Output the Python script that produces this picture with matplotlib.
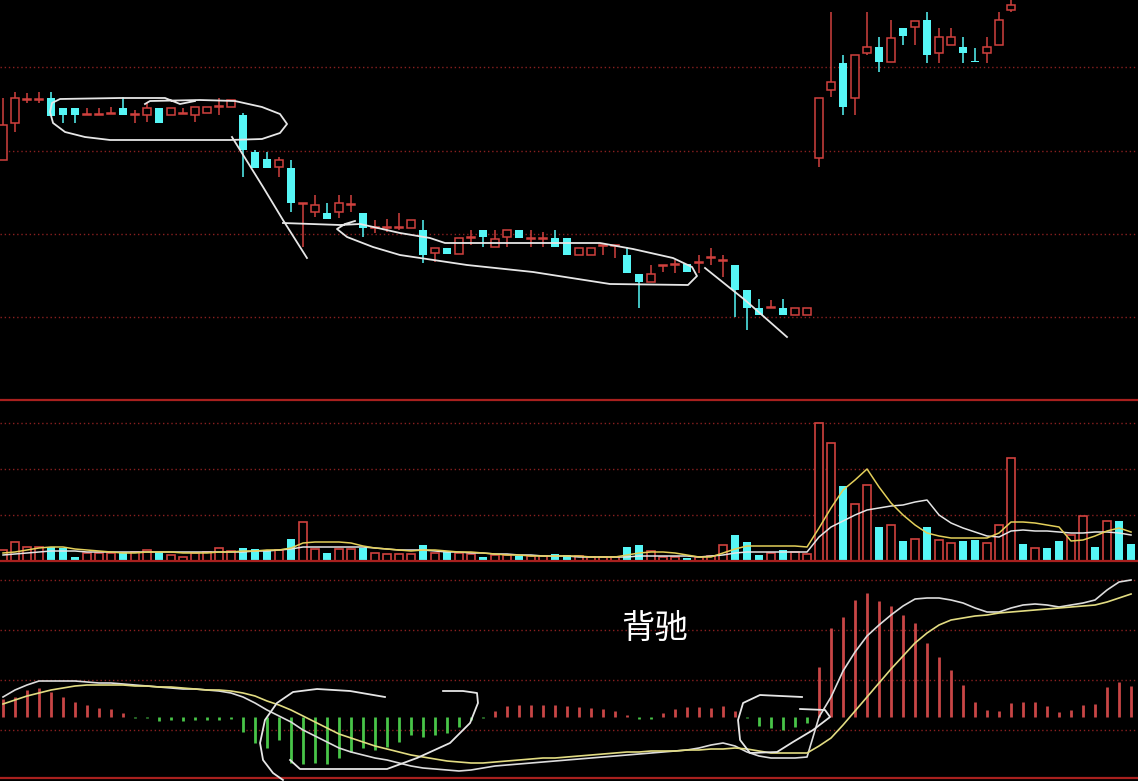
import numpy as np
import matplotlib
matplotlib.use("Agg")
import matplotlib.pyplot as plt
from matplotlib.lines import Line2D

plt.rcParams['font.family'] = ['Noto Sans CJK SC', 'DejaVu Sans']

# ---- price data (one entry per trading day) ----
opens = [8.40, 8.77, 9.00, 9.00, 9.02, 8.92, 8.92, 8.85, 8.85, 8.86,
         8.92, 8.85, 8.85, 8.92, 8.85, 8.86, 8.85, 8.87, 8.93, 8.93,
         8.85, 8.48, 8.41, 8.33, 8.32, 7.96, 7.88, 7.87, 7.88, 7.95,
         7.87, 7.72, 7.72, 7.72, 7.72, 7.70, 7.47, 7.52, 7.46, 7.62,
         7.70, 7.53, 7.63, 7.70, 7.61, 7.61, 7.62, 7.62, 7.45, 7.45,
         7.54, 7.54, 7.45, 7.26, 7.18, 7.34, 7.35, 7.36, 7.37, 7.42,
         7.39, 7.35, 7.10, 6.92, 6.92, 6.92, 6.85, 6.85, 8.42, 9.10,
         9.37, 9.02, 9.47, 9.53, 9.38, 9.72, 9.73, 9.80, 9.47, 9.55,
         9.53, 9.39, 9.47, 9.55, 9.90, 10.30, 10.15, 10.28, 10.20, 10.12,
         10.22, 10.40, 10.32, 10.55, 10.45]
closes = [8.75, 9.02, 9.01, 9.01, 8.84, 8.85, 8.85, 8.86, 8.86, 8.87,
          8.85, 8.86, 8.92, 8.77, 8.92, 8.87, 8.93, 8.93, 8.94, 9.00,
          8.50, 8.32, 8.32, 8.40, 7.97, 7.97, 7.95, 7.81, 7.97, 7.96,
          7.72, 7.73, 7.73, 7.73, 7.80, 7.45, 7.52, 7.46, 7.62, 7.63,
          7.63, 7.61, 7.70, 7.62, 7.62, 7.62, 7.53, 7.45, 7.52, 7.52,
          7.55, 7.55, 7.27, 7.18, 7.26, 7.35, 7.36, 7.28, 7.38, 7.43,
          7.40, 7.10, 6.92, 6.85, 6.93, 6.85, 6.92, 6.92, 9.02, 9.18,
          8.93, 9.45, 9.53, 9.38, 9.62, 9.64, 9.79, 9.45, 9.63, 9.63,
          9.47, 9.38, 9.53, 9.80, 9.95, 10.15, 10.25, 10.18, 10.12, 10.22,
          10.40, 10.32, 10.50, 10.42, 10.38]
highs = [9.02, 9.08, 9.07, 9.08, 9.08, 8.92, 8.92, 8.92, 8.92, 8.93,
         9.03, 8.90, 8.97, 8.92, 8.92, 8.92, 8.93, 8.93, 9.02, 9.00,
         8.87, 8.50, 8.48, 8.43, 8.40, 7.97, 8.05, 7.97, 8.05, 8.05,
         7.87, 7.80, 7.81, 7.87, 7.80, 7.80, 7.52, 7.52, 7.62, 7.70,
         7.70, 7.70, 7.70, 7.70, 7.70, 7.68, 7.70, 7.62, 7.52, 7.52,
         7.55, 7.55, 7.53, 7.26, 7.35, 7.35, 7.40, 7.36, 7.45, 7.52,
         7.45, 7.35, 7.10, 7.01, 7.00, 7.01, 6.92, 6.92, 9.02, 9.88,
         9.45, 9.45, 9.88, 9.63, 9.80, 9.72, 9.79, 9.88, 9.72, 9.72,
         9.63, 9.52, 9.63, 9.88, 10.05, 10.35, 10.30, 10.30, 10.25, 10.25,
         10.45, 10.45, 10.55, 10.60, 10.50]
lows = [8.40, 8.68, 8.97, 8.97, 8.84, 8.77, 8.77, 8.85, 8.85, 8.86,
        8.85, 8.77, 8.78, 8.77, 8.85, 8.86, 8.78, 8.87, 8.85, 8.93,
        8.23, 8.32, 8.32, 8.23, 7.88, 7.53, 7.83, 7.81, 7.82, 7.88,
        7.63, 7.67, 7.68, 7.70, 7.72, 7.37, 7.38, 7.46, 7.46, 7.55,
        7.53, 7.53, 7.53, 7.62, 7.53, 7.53, 7.53, 7.45, 7.45, 7.45,
        7.45, 7.42, 7.27, 6.92, 7.18, 7.28, 7.27, 7.28, 7.27, 7.35,
        7.23, 6.83, 6.70, 6.85, 6.92, 6.85, 6.85, 6.85, 8.33, 9.03,
        8.85, 8.85, 9.45, 9.28, 9.38, 9.55, 9.55, 9.37, 9.37, 9.55,
        9.37, 9.38, 9.37, 9.55, 9.88, 10.10, 10.12, 10.12, 10.08, 10.08,
        10.20, 10.28, 10.30, 10.38, 10.32]

# ---- volume and its two moving-average lines ----
volume = [1100, 1900, 1400, 1400, 1400, 1300, 400, 800, 800, 800,
          900, 900, 1100, 900, 600, 400, 800, 900, 1300, 1000,
          1300, 1200, 1100, 1100, 2200, 3900, 1200, 800, 1200, 1200,
          1300, 800, 700, 700, 700, 1600, 800, 1000, 800, 700,
          400, 600, 600, 500, 500, 500, 700, 600, 500, 400,
          400, 400, 1400, 1600, 1000, 400, 400, 300, 400, 500,
          1600, 2600, 1900, 600, 800, 1100, 900, 700, 13800, 11800,
          7500, 5700, 7600, 3400, 3600, 2000, 2200, 3400, 2100, 1800,
          2000, 2100, 1800, 3600, 10300, 1700, 1300, 1300, 2000, 2600,
          4500, 1400, 4000, 4000, 1700]
vol_ma_yellow = [800, 900, 1100, 1300, 1400, 1400, 1200, 1100, 1000, 900,
                 800, 800, 900, 900, 900, 800, 800, 800, 900, 900,
                 1000, 1000, 1100, 1100, 1300, 1800, 1900, 1900, 1900, 1800,
                 1500, 1300, 1200, 1100, 1000, 1100, 1100, 1000, 900, 900,
                 800, 700, 600, 600, 500, 500, 500, 500, 500, 400,
                 400, 400, 600, 800, 900, 900, 800, 600, 400, 400,
                 800, 1200, 1500, 1500, 1500, 1500, 1500, 1400, 3300, 5300,
                 7100, 8100, 9200, 7400, 5800, 4600, 3600, 2800, 2500, 2300,
                 2300, 2300, 2300, 2800, 3900, 3900, 3800, 3600, 3400, 2000,
                 2100, 2500, 3000, 3300, 2900]
vol_ma_white = [600, 700, 800, 900, 1000, 1000, 1000, 900, 900, 900,
                900, 900, 900, 900, 900, 900, 900, 900, 900, 900,
                900, 1000, 1000, 1100, 1200, 1400, 1400, 1400, 1400, 1400,
                1400, 1300, 1200, 1100, 1100, 1100, 1000, 900, 900, 800,
                800, 700, 700, 600, 600, 500, 500, 500, 400, 400,
                400, 400, 400, 500, 500, 500, 500, 500, 400, 500,
                600, 800, 900, 900, 900, 900, 900, 900, 2400, 3400,
                4000, 4600, 5100, 5300, 5500, 5600, 5900, 6100, 4600, 3800,
                3300, 2900, 2500, 2400, 3000, 3100, 3000, 3000, 2900, 2800,
                2800, 2900, 2900, 2800, 2600]

# ---- MACD ----
macd_hist = [0.18, 0.20, 0.27, 0.29, 0.25, 0.20, 0.15, 0.12, 0.09, 0.08,
             0.04, -0.01, -0.01, -0.04, -0.03, -0.04, -0.03, -0.03, -0.03, -0.02,
             -0.15, -0.26, -0.31, -0.23, -0.46, -0.47, -0.46, -0.47, -0.41, -0.35,
             -0.31, -0.33, -0.30, -0.25, -0.18, -0.20, -0.18, -0.16, -0.10, -0.03,
             -0.01, 0.06, 0.11, 0.12, 0.12, 0.12, 0.12, 0.11, 0.10, 0.09,
             0.08, 0.06, 0.02, -0.02, -0.02, 0.04, 0.08, 0.10, 0.10, 0.09,
             0.11, 0.06, -0.01, -0.09, -0.11, -0.13, -0.10, -0.06, 0.50, 0.89,
             1.00, 1.17, 1.24, 1.16, 1.11, 1.02, 0.94, 0.74, 0.60, 0.47,
             0.32, 0.15, 0.07, 0.06, 0.14, 0.15, 0.15, 0.11, 0.05, 0.07,
             0.12, 0.13, 0.30, 0.35, 0.31]
macd_dif = [0.20, 0.27, 0.32, 0.36, 0.36, 0.36, 0.36, 0.35, 0.34, 0.34,
            0.33, 0.32, 0.31, 0.30, 0.29, 0.28, 0.28, 0.27, 0.26, 0.24,
            0.20, 0.14, 0.07, 0.01, -0.05, -0.13, -0.19, -0.25, -0.31, -0.35,
            -0.38, -0.41, -0.43, -0.46, -0.49, -0.51, -0.52, -0.53, -0.54, -0.53,
            -0.51, -0.49, -0.48, -0.47, -0.46, -0.45, -0.44, -0.43, -0.42, -0.41,
            -0.40, -0.39, -0.38, -0.37, -0.36, -0.35, -0.34, -0.33, -0.31, -0.28,
            -0.26, -0.29, -0.35, -0.39, -0.41, -0.41, -0.41, -0.40, 0.00, 0.20,
            0.46, 0.65, 0.81, 0.92, 1.02, 1.11, 1.18, 1.19, 1.19, 1.17,
            1.14, 1.09, 1.05, 1.05, 1.09, 1.12, 1.13, 1.12, 1.10, 1.12,
            1.14, 1.17, 1.27, 1.35, 1.37]
macd_dea = [0.13, 0.17, 0.21, 0.24, 0.27, 0.29, 0.31, 0.32, 0.32, 0.32,
            0.32, 0.31, 0.31, 0.30, 0.30, 0.29, 0.28, 0.27, 0.27, 0.26,
            0.24, 0.21, 0.16, 0.12, 0.07, 0.01, -0.05, -0.11, -0.17, -0.21,
            -0.25, -0.29, -0.32, -0.35, -0.38, -0.40, -0.42, -0.44, -0.45, -0.46,
            -0.46, -0.45, -0.44, -0.43, -0.42, -0.41, -0.41, -0.40, -0.39, -0.38,
            -0.37, -0.36, -0.35, -0.35, -0.34, -0.34, -0.34, -0.33, -0.33, -0.32,
            -0.32, -0.31, -0.32, -0.34, -0.36, -0.36, -0.36, -0.36, -0.29, -0.21,
            -0.08, 0.06, 0.20, 0.34, 0.48, 0.61, 0.74, 0.84, 0.92, 0.97,
            0.99, 1.01, 1.02, 1.04, 1.05, 1.06, 1.07, 1.08, 1.09, 1.10,
            1.11, 1.12, 1.15, 1.19, 1.23]

# ---- grid levels ----
price_grid = [6.83, 7.66, 8.49, 9.33]
vol_grid = [4600, 9200, 13800]
macd_grid = [-0.13, 0.37, 0.87, 1.37]

# ---- hand-drawn marks (bar index, value) ----
circle1_x = [11.83, 12.25, 16.42, 19.33, 21.58, 23.08, 23.67, 23.08, 21.58, 18.92, 12.25, 8.92,
             6.83, 5.17, 4.17, 3.92, 4.08, 4.75, 9.75, 13.5, 14.75, 16.0]
circle1_y = [8.96, 8.99, 9.00, 8.99, 8.93, 8.86, 8.76, 8.67, 8.61, 8.60, 8.60, 8.60,
             8.63, 8.68, 8.77, 8.88, 8.97, 9.01, 9.02, 9.02, 8.96, 8.99]
drop1_x = [19.08, 21.67, 23.33, 25.33]
drop1_y = [8.63, 8.13, 7.80, 7.42]
circle2_x = [23.33, 28.08, 29.75, 33.08, 35.58, 36.83, 49.75, 52.5, 55.83, 57.42, 57.83, 57.08,
             50.58, 44.17, 38.67, 33.08, 30.83, 28.67, 27.83, 28.5, 29.33]
circle2_y = [7.77, 7.75, 7.76, 7.67, 7.62, 7.57, 7.57, 7.51, 7.42, 7.33, 7.24, 7.15,
             7.16, 7.28, 7.35, 7.45, 7.53, 7.63, 7.71, 7.76, 7.79]
drop2_x = [58.5, 61.83, 65.33]
drop2_y = [7.32, 7.00, 6.63]
loop1a_x = [31.83, 28.92, 26.17, 24.17, 22.83, 21.83, 21.42, 21.67, 22.5, 23.33]
loop1a_y = [0.20, 0.26, 0.28, 0.25, 0.14, -0.03, -0.26, -0.43, -0.56, -0.63]
loop1b_x = [23.92, 24.75, 32.0, 34.5, 37.25, 38.92, 39.58, 39.5, 38.33, 36.67]
loop1b_y = [-0.43, -0.52, -0.52, -0.41, -0.26, -0.06, 0.14, 0.24, 0.26, 0.26]
loop2_x = [66.58, 63.08, 61.67, 61.25, 61.42, 62.25, 64.5, 65.83, 67.5, 68.92, 68.5, 66.42]
loop2_y = [0.20, 0.22, 0.14, -0.03, -0.23, -0.36, -0.35, -0.25, -0.13, 0.0, 0.07, 0.08]

RED = '#d0413e'
CYAN = '#56f6f6'
GRID = '#8a2020'
SEP = '#a8201e'
INK = '#e6e6e6'

W, H = 1138, 781
fig = plt.figure(figsize=(W / 100, H / 100), dpi=100, facecolor='black')
ax_k = fig.add_axes([0, 1 - 400 / H, 1, 400 / H])
ax_v = fig.add_axes([0, 1 - 563 / H, 1, 163 / H])
ax_m = fig.add_axes([0, 0, 1, 218 / H])

x = np.arange(len(opens))
xlim = (-0.25, 94.58)
for ax in (ax_k, ax_v, ax_m):
    ax.set_facecolor('black')
    ax.set_xlim(*xlim)
    ax.set_xticks([])
    ax.set_yticks([])
    for s in ax.spines.values():
        s.set_visible(False)

# candles
ax_k.set_ylim(6.0, 10.0)
for lvl in price_grid:
    ax_k.axhline(lvl, color=GRID, lw=1.0, ls=(0, (1, 2)), zorder=0)
bw = 0.66
for i in x:
    o, c, h, l = opens[i], closes[i], highs[i], lows[i]
    if c >= o:
        ax_k.vlines(i, c, h, color=RED, lw=1.1)
        ax_k.vlines(i, l, o, color=RED, lw=1.1)
        ax_k.bar(i, max(c - o, 0.004), bottom=o, width=bw, facecolor='black',
                 edgecolor=RED, lw=1.1, zorder=3)
    else:
        ax_k.vlines(i, l, h, color=CYAN, lw=1.1)
        ax_k.bar(i, o - c, bottom=c, width=bw, color=CYAN, lw=0, zorder=3)

for px, py in [(circle1_x, circle1_y), (drop1_x, drop1_y),
               (circle2_x, circle2_y), (drop2_x, drop2_y)]:
    ax_k.plot(px, py, color=INK, lw=1.3, zorder=5)

# volume
ax_v.set_ylim(-200, 16100)
for lvl in vol_grid:
    ax_v.axhline(lvl, color=GRID, lw=1.0, ls=(0, (1, 2)), zorder=0)
up = np.array(closes) >= np.array(opens)
vol = np.array(volume)
ax_v.bar(x[up], vol[up], width=0.68, facecolor='black', edgecolor=RED, lw=1.2, zorder=2)
ax_v.bar(x[~up], vol[~up], width=0.68, color=CYAN, lw=0, zorder=2)
ax_v.plot(x, vol_ma_white, color='#e4e4e4', lw=1.1, zorder=4)
ax_v.plot(x, vol_ma_yellow, color='#e3cf5a', lw=1.1, zorder=4)
ax_v.axhline(0, color=SEP, lw=1.6, zorder=3)

# MACD
ax_m.set_ylim(-0.64, 1.54)
for lvl in macd_grid:
    ax_m.axhline(lvl, color=GRID, lw=1.0, ls=(0, (1, 2)), zorder=0)
hist = np.array(macd_hist)
ax_m.vlines(x[hist >= 0], 0, hist[hist >= 0], color='#c84646', lw=2.0)
ax_m.vlines(x[hist < 0], 0, hist[hist < 0], color='#48c548', lw=2.0)
ax_m.plot(x, macd_dif, color='#dcdcdc', lw=1.2, zorder=4)
ax_m.plot(x, macd_dea, color='#e2dc82', lw=1.2, zorder=4)
ax_m.axhline(-0.61, color=SEP, lw=1.6)
for px, py in [(loop1a_x, loop1a_y), (loop1b_x, loop1b_y), (loop2_x, loop2_y)]:
    ax_m.plot(px, py, color=INK, lw=1.3, zorder=5)
ax_m.text(54.3, 0.89, '背驰', color='white', fontsize=24, ha='center', va='center')

# panel separator
fig.add_artist(Line2D([0, 1], [1 - 400 / H, 1 - 400 / H], color=SEP, lw=1.6))

fig.savefig('out.png', dpi=100, facecolor='black')
